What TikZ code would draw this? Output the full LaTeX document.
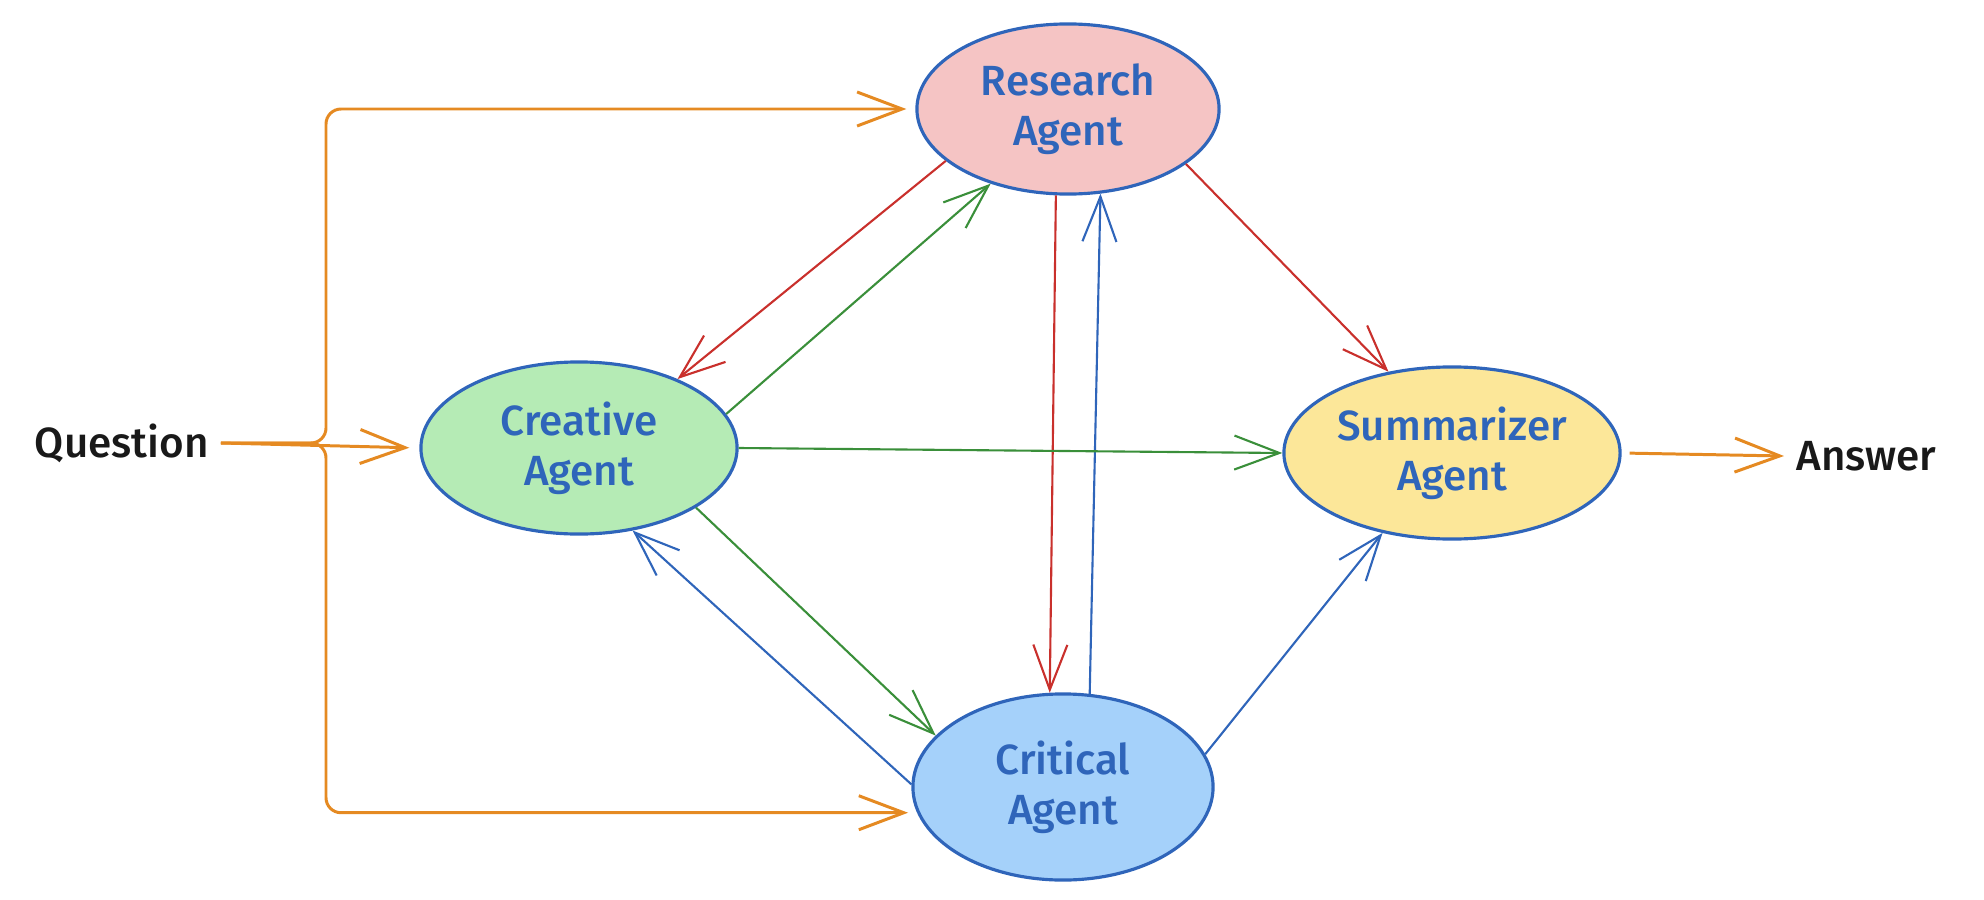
\documentclass[tikz,border=0pt]{standalone}
\usepackage{fontspec}
\setmainfont{Fira Sans}[BoldFont={Fira Sans Medium}]
\usetikzlibrary{arrows.meta,shapes.geometric}

\definecolor{penblue}{HTML}{2F65BA}
\definecolor{redline}{HTML}{C9302C}
\definecolor{greenline}{HTML}{3A8F3A}
\definecolor{blueline}{HTML}{2F65BA}
\definecolor{orangeline}{HTML}{E58A22}
\definecolor{pinkfill}{HTML}{F5C4C4}
\definecolor{greenfill}{HTML}{B5EBB5}
\definecolor{yellowfill}{HTML}{FCE799}
\definecolor{bluefill}{HTML}{A5D1FA}

\begin{document}
\begin{tikzpicture}[x=0.01cm, y=-0.01cm, node distance=2cm]

\tikzstyle{agent} = [ellipse, draw=penblue, line width=0.9pt, text=penblue, align=center, inner sep=0pt, font=\fontsize{12}{14.2}\selectfont\bfseries]
\tikzstyle{research} = [agent, fill=pinkfill, minimum width=3.02cm, minimum height=1.70cm]
\tikzstyle{creative} = [agent, fill=greenfill, minimum width=3.16cm, minimum height=1.72cm]
\tikzstyle{summarizer} = [agent, fill=yellowfill, minimum width=3.36cm, minimum height=1.72cm]
\tikzstyle{critical} = [agent, fill=bluefill, minimum width=3.00cm, minimum height=1.86cm]
\tikzstyle{io} = [text=black!90, font=\fontsize{12}{14}\selectfont\bfseries]

\tikzstyle{arrow} = [line width=0.6pt, -{Straight Barb[length=4.5mm, width=3.4mm]}]
\tikzstyle{qarrow} = [arrow, draw=orangeline, line width=0.85pt]

\useasboundingbox (0,0) rectangle (1984,900);

\node (re) [research] at (1068,109) {Research\\Agent};
\node (cr) [creative] at (579,448) {Creative\\Agent};
\node (s) [summarizer] at (1452,453) {Summarizer\\Agent};
\node (cri) [critical] at (1063,787) {Critical\\Agent};
\node (q) [io, left of = cr, xshift = -2.57cm, yshift = 0.05cm] {Question};
\node (ans) [io, right of = s, xshift = 2.14cm, yshift = -0.03cm] {Answer};
\coordinate (fork) at (326,0);

\draw [qarrow, shorten >=0.1cm] (q.east) -- (cr.west);
\draw [qarrow, rounded corners=0.15cm, shorten >=0.09cm] (q.east) -- (q.east -| fork) |- (re.west);
\draw [qarrow, rounded corners=0.15cm, shorten >=0.09cm] (q.east) -- (q.east -| fork) |- (cri.-170);
\draw [qarrow, shorten <=0.08cm] (s.east) -- (ans.west);

\draw [arrow, redline] (re.-25.6) -- (s.128.3);
\draw [arrow, redline] (re.-157.2) -- (cr.35.1);
\draw [arrow, greenline] (cr.13) -- (re.-136.8);
\draw [arrow, redline] (re.-98.9) -- (cri.98.4);
\draw [arrow, blueline] (cri.74.1) -- (re.-69.7);
\draw [arrow, greenline] (cr.0) -- (s.180);
\draw [arrow, greenline] (cr.-27.8) -- (cri.158.4);
\draw [arrow, blueline] (cri.179) -- (cr.-57.9);
\draw [arrow, blueline] (cri.13.9) -- (s.-131);

\end{tikzpicture}
\end{document}
